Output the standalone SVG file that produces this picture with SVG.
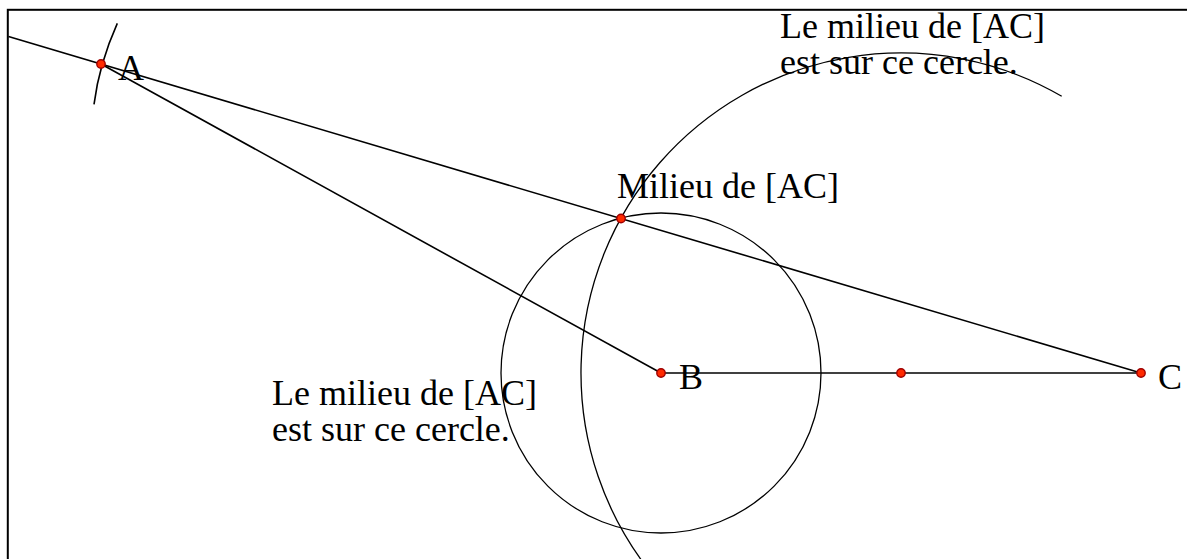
<svg xmlns="http://www.w3.org/2000/svg" width="1187" height="559" viewBox="0 0 1187 559">
<style>
.ln{fill:none;stroke:#000;stroke-width:1.6}
.cr{fill:none;stroke:#000;stroke-width:1.3}
.pt{fill:#ff2a00;stroke:#a00000;stroke-width:1.4}
.tx{font-family:"Liberation Serif","Times New Roman",serif;font-size:36px;fill:#000}
</style>
<rect x="0" y="0" width="1187" height="559" fill="#fff"/>
<rect x="7.8" y="9.8" width="1200" height="600" fill="none" stroke="#000" stroke-width="2"/>
<g id="connectors">
<path class="ln" d="M8.5 36.6 L1141 373"/>
<path class="ln" d="M101 64 L661 373"/>
<path class="ln" d="M661 373 L1141 373"/>
<path class="ln" d="M117.3 23.3 Q99 64.2 94 104.3"/>
<circle class="cr" cx="661" cy="373" r="160"/>
<path class="cr" d="M648.8 570 A320 320 0 0 1 1061.7 96.3"/>
</g>
<g id="A"><circle class="pt" cx="101" cy="64" r="4.2"/><text class="tx" x="118" y="80">A</text></g>
<g id="B"><circle class="pt" cx="661" cy="373" r="4.2"/><text class="tx" x="679" y="389">B</text></g>
<g id="C"><circle class="pt" cx="1141" cy="373" r="4.2"/><text class="tx" x="1158" y="389">C</text></g>
<g id="D"><circle class="pt" cx="901" cy="373" r="4.2"/></g>
<g id="M"><circle class="pt" cx="621" cy="218.5" r="4.2"/><text class="tx" x="617" y="198">Milieu de [AC]</text></g>
<g id="label-top"><text class="tx" x="780" y="38">Le milieu de [AC]</text><text class="tx" x="780" y="74">est sur ce cercle.</text></g>
<g id="label-bottom"><text class="tx" x="272" y="405">Le milieu de [AC]</text><text class="tx" x="272" y="441">est sur ce cercle.</text></g>
</svg>
